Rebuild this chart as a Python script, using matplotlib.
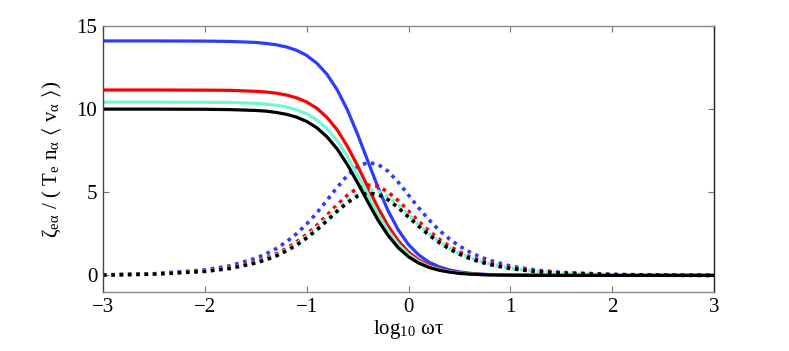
import numpy as np
import matplotlib
matplotlib.use('Agg')
import matplotlib.pyplot as plt

plt.rcParams['font.family'] = ['Liberation Serif', 'DejaVu Serif', 'DejaVu Sans']
plt.rcParams['mathtext.fontset'] = 'stix'

# log10(omega tau) sample points
logwt = [-3, -2.5, -2, -1.75, -1.5, -1.4, -1.3, -1.2, -1.1, -1, -0.9, -0.8, -0.7, -0.6, -0.5,
         -0.4, -0.3, -0.2, -0.1, 0, 0.1, 0.2, 0.3, 0.4, 0.5, 0.6, 0.7, 0.8, 1.0, 1.25, 1.5, 2, 2.5, 3]

# solid curves (real part)
blue_re = [14.1, 14.1, 14.09, 14.07, 14.01, 13.95, 13.87, 13.74, 13.54, 13.23, 12.76, 12.09, 11.16,
           9.95, 8.49, 6.89, 5.30, 3.88, 2.73, 1.85, 1.23, 0.80, 0.52, 0.33, 0.21, 0.13, 0.08, 0.05,
           0.02, 0.01, 0, 0, 0, 0]
red_re = [11.15, 11.15, 11.14, 11.13, 11.07, 11.03, 10.96, 10.85, 10.68, 10.43, 10.05, 9.50, 8.75,
          7.76, 6.59, 5.32, 4.07, 2.97, 2.08, 1.41, 0.93, 0.61, 0.39, 0.25, 0.16, 0.10, 0.06, 0.04,
          0.02, 0.01, 0, 0, 0, 0]
cyan_re = [10.42, 10.42, 10.41, 10.40, 10.35, 10.30, 10.23, 10.13, 9.96, 9.72, 9.35, 8.82, 8.09,
           7.15, 6.04, 4.85, 3.70, 2.68, 1.87, 1.26, 0.83, 0.54, 0.35, 0.22, 0.14, 0.09, 0.05, 0.04,
           0.01, 0, 0, 0, 0, 0]
black_re = [10.0, 10.0, 9.99, 9.97, 9.92, 9.88, 9.80, 9.69, 9.52, 9.26, 8.88, 8.33, 7.60,
            6.66, 5.57, 4.43, 3.33, 2.40, 1.66, 1.12, 0.74, 0.48, 0.31, 0.20, 0.12, 0.08, 0.05, 0.03,
            0.01, 0, 0, 0, 0, 0]

# dotted curves (imaginary part)
blue_im = [0.03, 0.10, 0.33, 0.58, 1.03, 1.29, 1.61, 2.01, 2.50, 3.09, 3.76, 4.52, 5.30,
           6.01, 6.55, 6.79, 6.68, 6.26, 5.60, 4.83, 4.06, 3.35, 2.72, 2.20, 1.76, 1.41, 1.12, 0.90,
           0.56, 0.32, 0.18, 0.06, 0.02, 0.01]
red_im = [0.03, 0.08, 0.26, 0.46, 0.82, 1.03, 1.29, 1.61, 2.01, 2.47, 3.01, 3.62, 4.25,
          4.82, 5.25, 5.44, 5.36, 5.01, 4.49, 3.87, 3.25, 2.68, 2.18, 1.76, 1.41, 1.13, 0.90, 0.72,
          0.45, 0.26, 0.14, 0.05, 0.01, 0]
cyan_im = [0.02, 0.08, 0.25, 0.44, 0.78, 0.97, 1.22, 1.52, 1.90, 2.34, 2.85, 3.42, 4.01,
           4.55, 4.96, 5.14, 5.06, 4.74, 4.24, 3.66, 3.07, 2.53, 2.06, 1.66, 1.33, 1.07, 0.85, 0.68,
           0.43, 0.24, 0.13, 0.04, 0.01, 0]
black_im = [0.02, 0.08, 0.24, 0.42, 0.75, 0.94, 1.17, 1.47, 1.82, 2.25, 2.74, 3.29, 3.86,
            4.38, 4.77, 4.95, 4.87, 4.55, 4.07, 3.51, 2.96, 2.44, 1.98, 1.60, 1.28, 1.02, 0.82, 0.65,
            0.41, 0.23, 0.13, 0.04, 0.01, 0]

series = [
    (blue_re, blue_im, '#2a3dff'),
    (red_re, red_im, '#ff0000'),
    (cyan_re, cyan_im, '#72f7d6'),
    (black_re, black_im, '#000000'),
]

fig = plt.figure(figsize=(7.89, 3.51), dpi=100)
ax = fig.add_axes([0.1305, 0.168, 0.7745, 0.758])

for re, im, col in series:
    ax.plot(logwt, re, color=col, lw=2.3, solid_joinstyle='round')
    ax.plot(logwt, im, color=col, lw=2.6, linestyle=(0, (1.0, 1.3)))

ax.set_xlim(-3, 3)
ax.set_ylim(-1, 15)
ax.set_xticks([-3, -2, -1, 0, 1, 2, 3])
ax.set_yticks([0, 5, 10, 15])
ax.set_xticklabels(['\u22123', '\u22122', '\u22121', '0', '1', '2', '3'])
ax.tick_params(direction='in', length=4, width=0.8, color='#777777',
               labelsize=15, top=True, right=True, pad=4)

ax.spines['bottom'].set_color('#888888')
ax.spines['top'].set_color('#888888')
ax.spines['left'].set_color('#444444')
ax.spines['right'].set_color('#222222')
for s in ax.spines.values():
    s.set_linewidth(1.0)

ax.set_xlabel('log$_{\\mathregular{10}}$ ωτ', fontsize=15, labelpad=1)
ax.set_ylabel('ζ$_{\\mathregular{eα}}$ / ( T$_{\\mathregular{e}}$ n$_{\\mathregular{α}}$ '
              '$\\langle$ v$_{\\mathregular{α}}$ $\\rangle$)', fontsize=15, labelpad=9)

fig.savefig('out.png', dpi=100)
